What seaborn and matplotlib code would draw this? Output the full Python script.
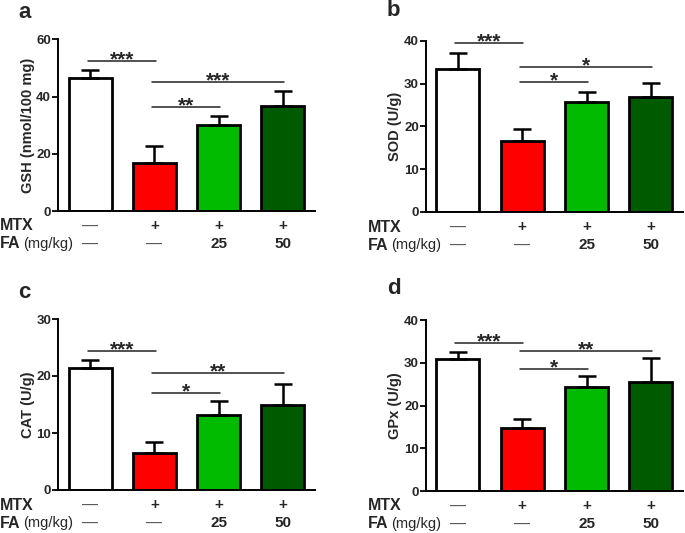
import matplotlib
matplotlib.use("Agg")
import matplotlib.pyplot as plt
import matplotlib.transforms as mtransforms
import seaborn as sns
import numpy as np
import pandas as pd

# ---- data ----
groups = ["Control", "MTX", "MTX+FA25", "MTX+FA50"]
mtx_row = ["—", "+", "+", "+"]
fa_row = ["—", "—", "25", "50"]
bar_colors = ["#FFFFFF", "#FF0000", "#00BB00", "#005A00"]

gsh_mean = [46.4, 16.9, 30.0, 36.7]
gsh_err = [2.9, 5.9, 3.1, 5.2]
sod_mean = [33.4, 16.5, 25.8, 26.8]
sod_err = [3.7, 2.9, 2.2, 3.3]
cat_mean = [21.35, 6.5, 13.1, 15.0]
cat_err = [1.45, 1.9, 2.5, 3.6]
gpx_mean = [30.9, 14.7, 24.4, 25.5]
gpx_err = [1.7, 2.1, 2.5, 5.6]

gsh_sig = [(0, 1, 52.4, "***"), (1, 3, 45.0, "***"), (1, 2, 36.4, "**")]
sod_sig = [(0, 1, 39.4, "***"), (1, 3, 33.8, "*"), (1, 2, 30.3, "*")]
cat_sig = [(0, 1, 24.4, "***"), (1, 3, 20.6, "**"), (1, 2, 17.1, "*")]
gpx_sig = [(0, 1, 34.6, "***"), (1, 3, 32.8, "**"), (1, 2, 28.6, "*")]

panels = [
    dict(letter="a", ylabel="GSH (nmol/100 mg)", mean=gsh_mean, err=gsh_err,
         sig=gsh_sig, ymax=60, yticks=[0, 20, 40, 60]),
    dict(letter="b", ylabel="SOD (U/g)", mean=sod_mean, err=sod_err,
         sig=sod_sig, ymax=40, yticks=[0, 10, 20, 30, 40]),
    dict(letter="c", ylabel="CAT (U/g)", mean=cat_mean, err=cat_err,
         sig=cat_sig, ymax=30, yticks=[0, 10, 20, 30]),
    dict(letter="d", ylabel="GPx (U/g)", mean=gpx_mean, err=gpx_err,
         sig=gpx_sig, ymax=40, yticks=[0, 10, 20, 30, 40]),
]

sns.set_style("ticks")
plt.rcParams["font.family"] = ["Liberation Sans", "DejaVu Sans"]

W, H = 685, 533
fig = plt.figure(figsize=(W / 100, H / 100), dpi=100)

# axes boxes in pixels: left, top, right, bottom
boxes = [(58, 39.3, 315, 211), (425.7, 40.7, 683, 212),
         (58, 319, 315, 490), (425.7, 320.3, 683, 491)]
row_label_x = [0, 368, 0, 368]
letter_pos = [(18, 12), (387, 11), (18, 292), (387, 289)]

for p, box, lx, lp in zip(panels, boxes, row_label_x, letter_pos):
    l, t, r, b = box
    ax = fig.add_axes([l / W, 1 - b / H, (r - l) / W, (b - t) / H])
    df = pd.DataFrame({"group": groups, "value": p["mean"]})
    sns.barplot(data=df, x="group", y="value", hue="group", order=groups,
                hue_order=groups, palette=bar_colors, saturation=1,
                edgecolor="black", linewidth=2.0, width=0.67, errorbar=None,
                legend=False, ax=ax, zorder=2)
    xpos = np.arange(len(groups))
    ax.errorbar(xpos, p["mean"], yerr=[np.zeros(len(groups)), p["err"]],
                fmt="none", ecolor="black", elinewidth=1.8, capsize=6.5,
                capthick=1.8, zorder=3)
    ax.set_xlim(-0.5, 3.5)
    ax.set_ylim(0, p["ymax"])
    ax.set_yticks(p["yticks"])
    ax.set_xticks([])
    ax.set_xlabel("")
    ax.set_ylabel(p["ylabel"], fontsize=10.5, fontweight="bold", labelpad=1)
    for lab in ax.get_yticklabels():
        lab.set_fontweight("bold")
        lab.set_fontsize(9.5)
    ax.tick_params(axis="y", length=4, width=1.3, pad=1, color="black")
    for s in ["top", "right"]:
        ax.spines[s].set_visible(False)
    for s in ["left", "bottom"]:
        ax.spines[s].set_linewidth(1.4)
        ax.spines[s].set_color("black")
    ax.patch.set_alpha(0)

    # significance lines
    for i, j, y, lab in p["sig"]:
        x0 = i - 0.04
        x1 = j + 0.02
        ax.plot([x0, x1], [y, y], color="#222222", lw=1.1, clip_on=False,
                zorder=4)
        ax.annotate(lab, xy=((x0 + x1) / 2, y), xytext=(0, -3.2),
                    textcoords="offset points", ha="center", va="baseline",
                    fontsize=15, fontweight="bold", annotation_clip=False)

    # treatment rows
    trans = mtransforms.blended_transform_factory(ax.transData, fig.transFigure)
    y_mtx = 1 - (b + 15) / H
    y_fa = 1 - (b + 33) / H
    for k in range(len(groups)):
        for txt, yy in ((mtx_row[k], y_mtx), (fa_row[k], y_fa)):
            if txt == "—":
                ax.text(k, yy, txt, transform=trans, ha="center", va="center",
                        fontsize=11.5, color="#555555")
            else:
                ax.text(k, yy, txt, transform=trans, ha="center", va="center",
                        fontsize=11, fontweight="bold")
    fig.text(lx / W, y_mtx, "MTX", ha="left", va="center", fontsize=11.5,
             fontweight="bold")
    fig.text(lx / W, y_fa, "FA", ha="left", va="center", fontsize=11.5,
             fontweight="bold")
    fig.text((lx + 23) / W, y_fa, "(mg/kg)", ha="left", va="center",
             fontsize=10.5)

    fig.text(lp[0] / W, 1 - lp[1] / H, p["letter"], ha="left", va="center",
             fontsize=16, fontweight="bold")

fig.savefig("out.png", dpi=100)
